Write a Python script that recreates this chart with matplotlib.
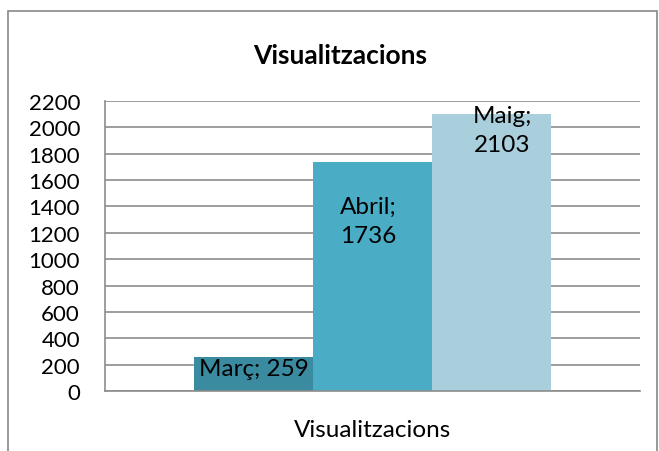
import matplotlib.pyplot as plt
import numpy as np
from matplotlib.patches import Rectangle

months = ['Març', 'Abril', 'Maig']
views = [259, 1736, 2103]
colors = ['#3a8aa0', '#4bacc6', '#a9cedc']
yticks = list(range(0, 2201, 200))
category = 'Visualitzacions'

plt.rcParams['font.family'] = ['Lato', 'DejaVu Sans']

fig = plt.figure(figsize=(6.59, 4.52), dpi=100)
# frame around the whole chart
fig.patches.append(Rectangle((8 / 659, -0.01), 649 / 659, 1 - 12 / 452 + 0.01,
                             transform=fig.transFigure, fill=False,
                             edgecolor='#888888', linewidth=1.2))

ax = fig.add_axes([105 / 659, 60 / 452, 535 / 659, 290 / 452])
w = 0.2224
xs = 0.5 + (np.arange(len(views)) - 1) * w
ax.bar(xs, views, width=w, color=colors, zorder=2)

ax.set_xlim(0, 1)
ax.set_ylim(0, 2200)
ax.set_yticks(yticks)
ax.yaxis.grid(True, color='#8c8c8c', linewidth=1.2, zorder=0)
ax.tick_params(axis='y', length=0, labelsize=16, pad=18)
ax.set_xticks([0.5])
ax.set_xticklabels([category], fontsize=17.5)
ax.tick_params(axis='x', length=0, pad=20)
for s in ['top', 'right']:
    ax.spines[s].set_visible(False)
for s in ['left', 'bottom']:
    ax.spines[s].set_color('#8c8c8c')
    ax.spines[s].set_linewidth(1.2)

# data labels (Excel style placement)
label_y = [167, 1290, 1980]
label_dx = [0, -0.008, 0.02]
for i, (m, v) in enumerate(zip(months, views)):
    txt = f'{m}; {v}' if i == 0 else f'{m};\n{v}'
    ax.text(xs[i] + label_dx[i], label_y[i], txt, ha='center', va='center',
            fontsize=17.5, linespacing=1.5, zorder=3)

fig.text(340 / 659, 1 - 56 / 452, category, ha='center', va='center',
         fontsize=19, fontweight='bold')

fig.savefig('out.png', dpi=100)
